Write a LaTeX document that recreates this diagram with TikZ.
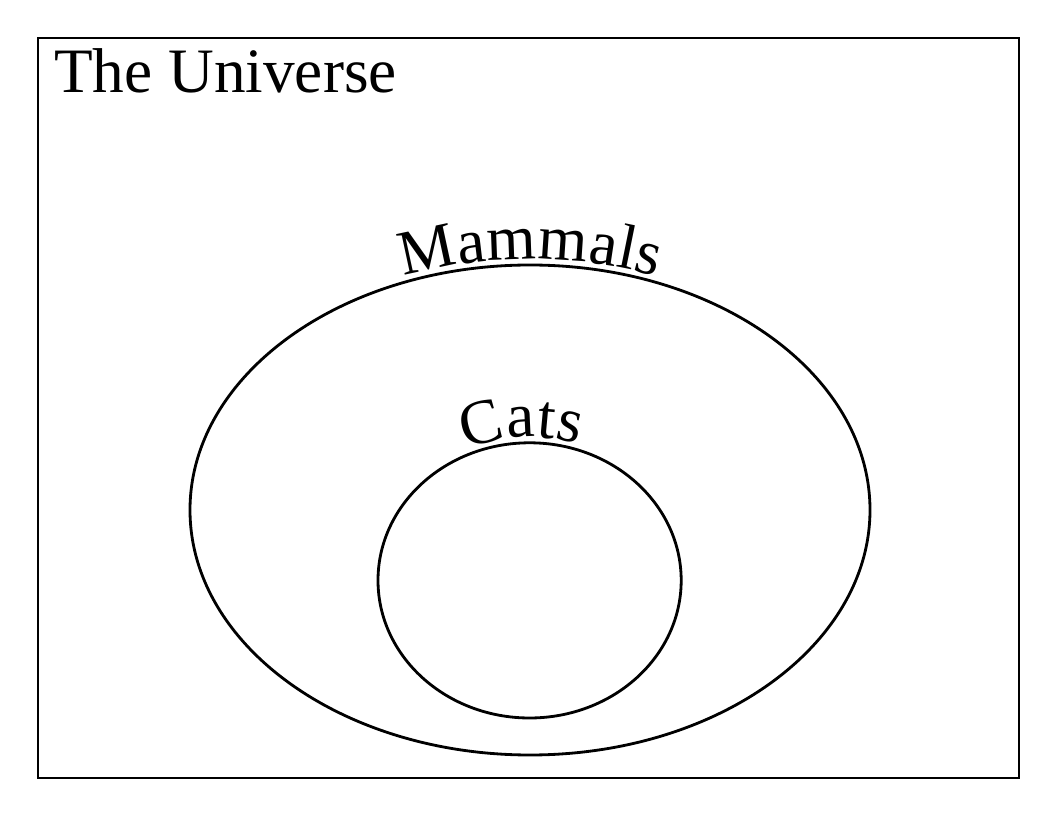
\documentclass[tikz,border=0pt]{standalone}
\usepackage{fontspec}
\setmainfont{Liberation Serif}
\usetikzlibrary{decorations.text}

\begin{document}
\begin{tikzpicture}[set/.style={line width=2pt},
		label along/.style={decorate, decoration={text along path, text align=center, raise=4pt, text={|\fontsize{45}{54}\selectfont|#1}}}]
		\useasboundingbox (0,0) rectangle (26.4,20.4);
		\draw[set] (0.95,0.95) rectangle (25.475,19.45);
		\node[anchor=base west, inner sep=0pt, font=\fontsize{45}{54}\selectfont] (universe) at (1.35,18.075) {The Universe};
		
		\coordinate (mammals) at (13.25,7.65);
		\coordinate (cats) at (13.24,5.89);
		\draw[set] (mammals) ellipse [x radius=8.5, y radius=6.125];
		\draw[set] (cats) ellipse [x radius=3.79, y radius=3.44];
		
		\path[label along=Mammals] ([shift={(mammals)}]125:8.5 and 6.125) arc [start angle=125, end angle=55, x radius=8.5, y radius=6.125];
		\path[label along=Cats] ([shift={(cats)}]143:3.79 and 3.44) arc [start angle=143, end angle=43, x radius=3.79, y radius=3.44];
	\end{tikzpicture}
\end{document}
